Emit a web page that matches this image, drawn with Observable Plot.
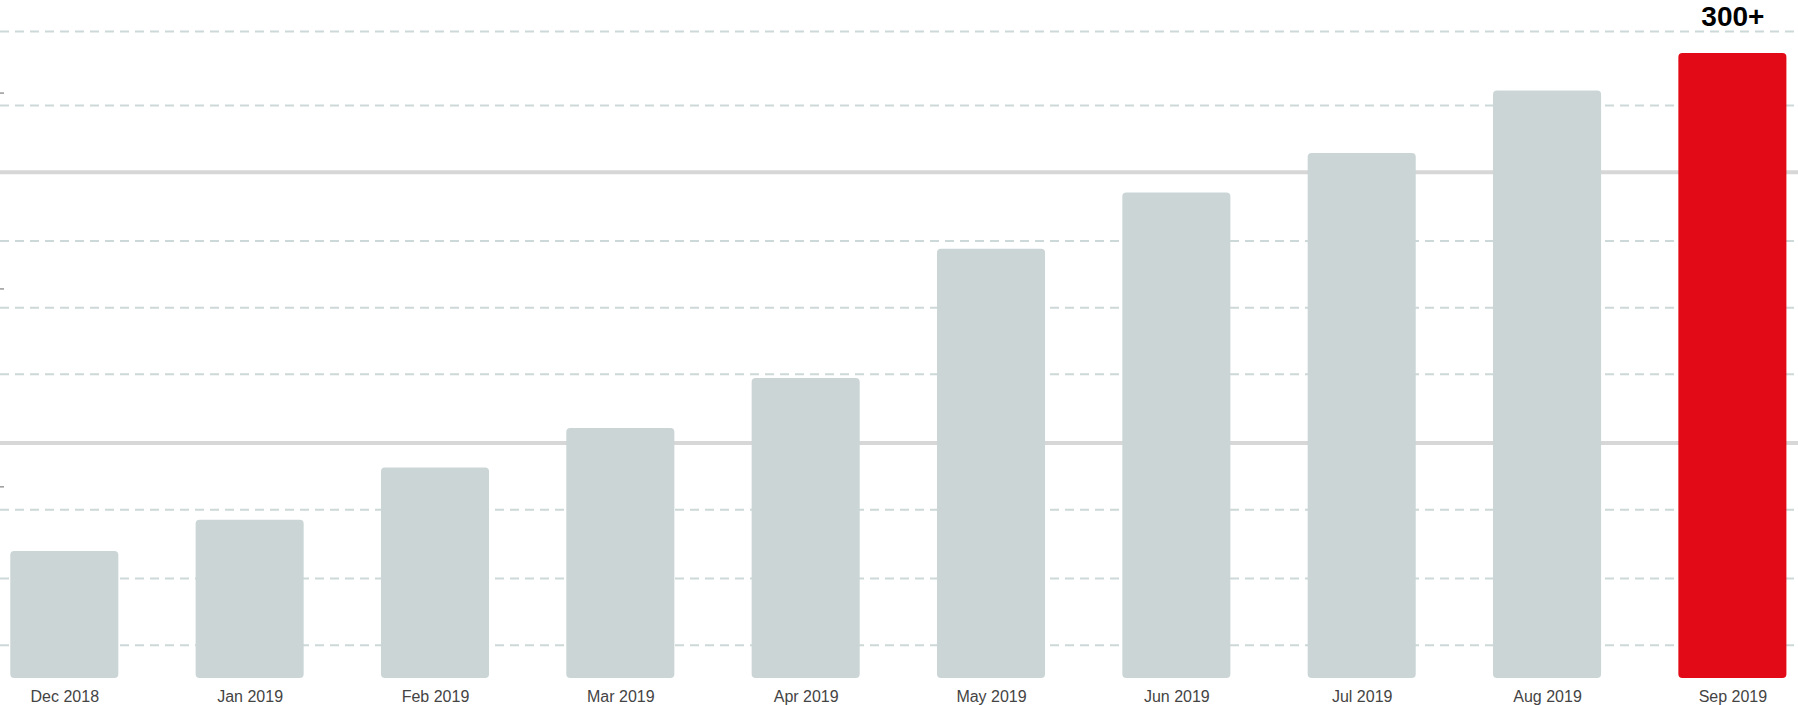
<!DOCTYPE html>
<html>
<head>
<meta charset="utf-8">
<script src="https://cdn.jsdelivr.net/npm/d3@7"></script>
<script src="https://cdn.jsdelivr.net/npm/@observablehq/plot@0.6"></script>
<style>
  html, body { margin: 0; padding: 0; background: #fff; }
  #chart svg { display: block; }
</style>
</head>
<body>
<div id="chart"></div>
<script>
// Categories and values (Sep 2019 ≈ 300)
const months = ["Dec 2018", "Jan 2019", "Feb 2019", "Mar 2019", "Apr 2019",
                "May 2019", "Jun 2019", "Jul 2019", "Aug 2019", "Sep 2019"];
const values = [61, 76, 101, 120, 144, 206, 233, 252, 282, 300];
const highlightMonth = "Sep 2019";
const highlightLabel = "300+";

// Background guide lines (in the same value units)
const dashedLines = [16, 48, 81, 146, 178, 210, 275, 310.6];
const solidLines = [113, 243];
const leftTicks = [92, 187, 281];

const data = months.map((m, i) => ({month: m, value: values[i], hi: m === highlightMonth}));

const chart = Plot.plot({
  width: 1798,
  height: 705,
  marginLeft: 0,
  marginRight: 0,
  marginTop: 53,
  marginBottom: 27,
  style: {fontFamily: "'Liberation Sans', Arial, Helvetica, sans-serif", background: "#fff"},
  x: {domain: months, paddingInner: 0.417, paddingOuter: 0.059, align: 0.47, round: false, label: null},
  y: {domain: [0, 300], label: null, axis: null},
  marks: [
    Plot.ruleY(dashedLines, {stroke: "#cdd8d8", strokeWidth: 2, strokeDasharray: "9,6"}),
    Plot.ruleY(solidLines, {stroke: "#d7d7d7", strokeWidth: 4}),
    Plot.axisY(leftTicks, {anchor: "left", tickSize: 4, dx: 4, tickFormat: () => "", label: null, stroke: "#999", strokeWidth: 1.5}),
    Plot.barY(data, {x: "month", y: "value", fill: d => d.hi ? "#e30a17" : "#cbd5d5", rx: 4}),
    Plot.text(data.filter(d => d.hi), {x: "month", y: "value", text: () => highlightLabel,
      fontSize: 28, fontWeight: "bold", fill: "#000", dy: -36}),
    Plot.axisX({anchor: "bottom", tickSize: 0, tickPadding: 12, fontSize: 16, fill: "#444", label: null})
  ]
});
document.getElementById("chart").appendChild(chart);
</script>
</body>
</html>
